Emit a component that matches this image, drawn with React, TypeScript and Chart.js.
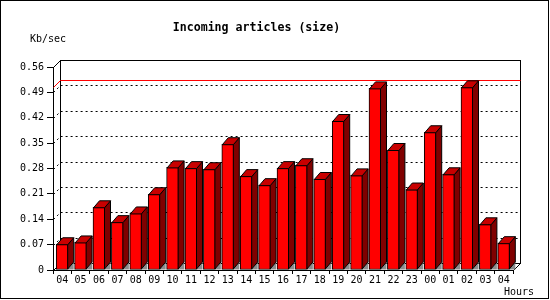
import React, { useEffect, useRef } from 'react';
import { Chart, registerables } from 'chart.js';

Chart.register(...registerables);

const hours = ['04', '05', '06', '07', '08', '09', '10', '11', '12', '13', '14', '15', '16', '17', '18', '19', '20', '21', '22', '23', '00', '01', '02', '03', '04'];
const sizeKbSec = [0.071, 0.076, 0.173, 0.132, 0.156, 0.209, 0.283, 0.281, 0.278, 0.347, 0.259, 0.234, 0.281, 0.289, 0.251, 0.411, 0.261, 0.501, 0.331, 0.222, 0.380, 0.264, 0.504, 0.126, 0.074];
const yTicks = [0, 0.07, 0.14, 0.21, 0.28, 0.35, 0.42, 0.49, 0.56];
const yMax = 0.56;
const TITLE = 'Incoming articles (size)';
const Y_LABEL = 'Kb/sec';
const X_LABEL = 'Hours';

const FONT = "'DejaVu Sans Mono', 'Liberation Mono', monospace";
const PLANE_D = 7;
const BAR_DX = 6;
const BAR_DY = 7;

const depthPlugin = {
  id: 'depth3d',
  beforeDraw(chart: any) {
    const { ctx, width, height } = chart;
    ctx.save();
    ctx.fillStyle = '#fff';
    ctx.fillRect(0, 0, width, height);
    ctx.restore();
  },
  beforeDatasetsDraw(chart: any) {
    const { ctx, chartArea } = chart;
    const ys = chart.scales.y;
    const L = Math.round(chartArea.left) + 0.5;
    const R = Math.round(chartArea.right) + 0.5;
    const T = Math.round(chartArea.top) + 0.5;
    const B = Math.round(chartArea.bottom) + 0.5;
    const D = PLANE_D;
    ctx.save();
    ctx.lineWidth = 1;
    ctx.strokeStyle = '#000';
    ctx.setLineDash([2, 3]);
    for (const v of yTicks) {
      if (v <= 0 || v >= yMax) continue;
      const py = Math.round(ys.getPixelForValue(v)) + 0.5;
      ctx.beginPath();
      ctx.moveTo(L, py);
      ctx.lineTo(L + D, py - D);
      ctx.lineTo(R + D, py - D);
      ctx.stroke();
    }
    ctx.setLineDash([]);
    ctx.strokeRect(L + D, T - D, R - L, B - T);
    ctx.beginPath();
    ctx.moveTo(L, T);
    ctx.lineTo(L + D, T - D);
    ctx.moveTo(L, B);
    ctx.lineTo(L + D, B - D);
    ctx.moveTo(R, B);
    ctx.lineTo(R + D, B - D);
    ctx.stroke();
    // maximum line
    const maxV = Math.max(...sizeKbSec);
    const my = Math.round(ys.getPixelForValue(maxV)) + 0.5;
    ctx.strokeStyle = '#ff0000';
    ctx.beginPath();
    ctx.moveTo(L, my);
    ctx.lineTo(L + D, my - D);
    ctx.lineTo(R + D, my - D);
    ctx.stroke();
    ctx.restore();
  },
  afterDatasetsDraw(chart: any) {
    const { ctx } = chart;
    const meta = chart.getDatasetMeta(0);
    ctx.save();
    ctx.lineWidth = 1;
    ctx.strokeStyle = '#000';
    ctx.lineJoin = 'miter';
    for (const el of meta.data) {
      const { x, y, base, width } = el.getProps(['x', 'y', 'base', 'width'], true);
      const x0 = x - width / 2 + 0.5;
      const x1 = x + width / 2 - 0.5;
      const yt = y + 0.5;
      const yb = base - 0.5;
      // floor shadow triangle
      ctx.fillStyle = '#8c8c8c';
      ctx.beginPath();
      ctx.moveTo(x1, yb);
      ctx.lineTo(x1 + BAR_DX, yb - BAR_DY);
      ctx.lineTo(x1 + BAR_DX, yb + 0.5);
      ctx.lineTo(x1, yb + 0.5);
      ctx.closePath();
      ctx.fill();
      // side face
      ctx.fillStyle = '#800000';
      ctx.beginPath();
      ctx.moveTo(x1, yt);
      ctx.lineTo(x1 + BAR_DX, yt - BAR_DY);
      ctx.lineTo(x1 + BAR_DX, yb - BAR_DY);
      ctx.lineTo(x1, yb);
      ctx.closePath();
      ctx.fill();
      ctx.stroke();
      // top face
      ctx.fillStyle = '#c80000';
      ctx.beginPath();
      ctx.moveTo(x0, yt);
      ctx.lineTo(x1, yt);
      ctx.lineTo(x1 + BAR_DX, yt - BAR_DY);
      ctx.lineTo(x0 + BAR_DX, yt - BAR_DY);
      ctx.closePath();
      ctx.fill();
      ctx.stroke();
    }
    ctx.restore();
  },
  afterDraw(chart: any) {
    const { ctx } = chart;
    ctx.save();
    ctx.fillStyle = '#000';
    ctx.font = `10px ${FONT}`;
    ctx.textBaseline = 'middle';
    ctx.textAlign = 'left';
    ctx.fillText(Y_LABEL, 30, 39);
    ctx.fillText(X_LABEL, 504, 292);
    ctx.strokeStyle = '#000';
    ctx.lineWidth = 1;
    ctx.strokeRect(0.5, 0.5, 548, 298);
    ctx.restore();
  },
};

export default function App() {
  const ref = useRef<HTMLCanvasElement | null>(null);
  useEffect(() => {
    if (!ref.current) return;
    const chart = new Chart(ref.current, {
      type: 'bar',
      data: {
        labels: hours,
        datasets: [
          {
            data: sizeKbSec,
            backgroundColor: '#ff0000',
            borderColor: '#000',
            borderWidth: 1,
            borderSkipped: false,
            barThickness: 12,
          } as any,
        ],
      },
      options: {
        animation: false,
        responsive: false,
        devicePixelRatio: 1,
        layout: { padding: { left: 0, right: 37, top: 0, bottom: 0 } },
        plugins: {
          legend: { display: false },
          tooltip: { enabled: false },
          title: {
            display: true,
            text: TITLE,
            color: '#000',
            font: { family: FONT, size: 11.6, weight: 'bold', lineHeight: '14px' } as any,
            padding: { top: 21, bottom: 32 },
          },
        },
        scales: {
          x: {
            offset: true,
            grid: { drawOnChartArea: false, drawTicks: true, tickLength: 4, color: '#000', offset: true },
            border: { display: true, color: '#000' },
            ticks: { color: '#000', font: { family: FONT, size: 10 }, padding: 0, maxRotation: 0, autoSkip: false },
            afterFit: (s: any) => {
              s.height = 30;
            },
          },
          y: {
            min: 0,
            max: yMax,
            afterBuildTicks: (s: any) => {
              s.ticks = yTicks.map((v) => ({ value: v }));
            },
            grid: { drawOnChartArea: false, drawTicks: true, tickLength: 6, color: '#000' },
            border: { display: true, color: '#000' },
            ticks: {
              color: '#000',
              font: { family: FONT, size: 10 },
              padding: 3,
              callback: (v: any) => (Number(v) === 0 ? '0' : Number(v).toFixed(2)),
            },
            afterFit: (s: any) => {
              s.width = 53;
            },
          },
        },
      },
      plugins: [depthPlugin],
    });
    return () => chart.destroy();
  }, []);
  return (
    <div style={{ position: 'absolute', left: 0, top: 0, width: 550, height: 300 }}>
      <canvas ref={ref} width={550} height={300} style={{ display: 'block' }} />
    </div>
  );
}
